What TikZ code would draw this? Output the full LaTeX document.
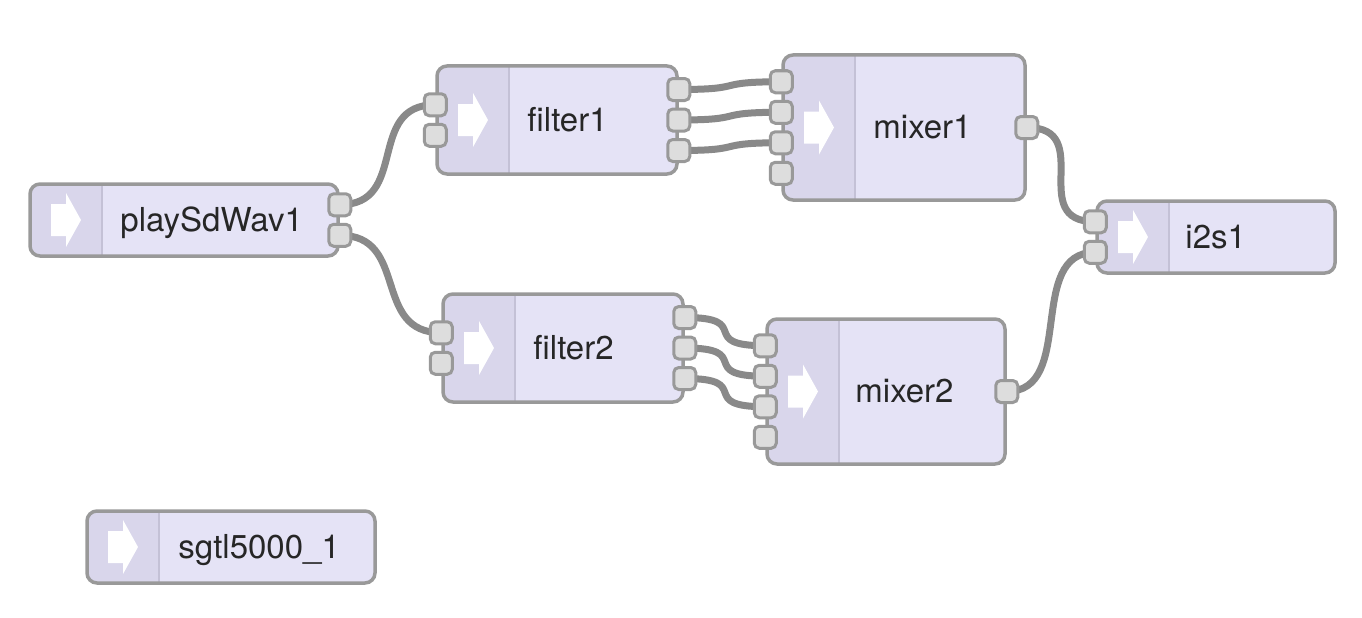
\documentclass[tikz,border=0pt]{standalone}
\usepackage{fontspec}
\setmainfont{TeX Gyre Heros}
\definecolor{nodefill}{HTML}{E5E3F6}
\definecolor{stripcol}{HTML}{D9D6EB}
\definecolor{dividercol}{HTML}{C4C1D6}
\definecolor{bordercol}{HTML}{999999}
\definecolor{portfill}{HTML}{DDDDDD}
\definecolor{wirecol}{HTML}{898989}
\definecolor{textcol}{HTML}{262626}
\pgfdeclarelayer{background}
\pgfsetlayers{background,main}
\begin{document}
\begin{tikzpicture}[x=1pt,y=-1pt,
  box/.style={draw=bordercol, line width=3.5pt, fill=nodefill, rounded corners=10pt, inner sep=0pt,
    path picture={
      \fill[stripcol, sharp corners] (path picture bounding box.south west) rectangle ([xshift=72pt]path picture bounding box.north west);
      \draw[dividercol, line width=2pt, sharp corners] ([xshift=72pt]path picture bounding box.south west) -- ([xshift=72pt]path picture bounding box.north west);
      \fill[white, sharp corners] ([xshift=36pt]path picture bounding box.west) ++(-15pt,-16pt) -- ++(15pt,0pt) -- ++(0pt,-11pt) -- ++(15pt,27pt) -- ++(-15pt,27pt) -- ++(0pt,-11pt) -- ++(-15pt,0pt) -- cycle;
    }},
  port/.style={draw=bordercol, fill=portfill, line width=3pt, rounded corners=5pt, minimum size=22pt, inner sep=0pt},
  wire/.style={draw=wirecol, line width=7pt},
  lbl/.style={text=textcol, inner sep=0pt, anchor=base west, font=\fontsize{33pt}{38pt}\selectfont}
]
\useasboundingbox (0,0) rectangle (1362,618);

% boxes
\node[box, minimum width=308pt, minimum height=72pt] (play) at (184,220) {};
\node[box, minimum width=240pt, minimum height=108pt] (filter1) at (557,120) {};
\node[box, minimum width=242pt, minimum height=145pt] (mixer1) at (904,127.5) {};
\node[box, minimum width=238pt, minimum height=72pt] (i2s) at (1216,237) {};
\node[box, minimum width=240pt, minimum height=108pt] (filter2) at (563,348) {};
\node[box, minimum width=238pt, minimum height=145pt] (mixer2) at (886,391.5) {};
\node[box, minimum width=288pt, minimum height=72pt] (sgtl) at (231,547) {};

% labels
\node[lbl] (play-t) at ([xshift=92pt,yshift=-11pt]play.west) {playSdWav1};
\node[lbl] (filter1-t) at ([xshift=92pt,yshift=-11pt]filter1.west) {filter1};
\node[lbl] (mixer1-t) at ([xshift=92pt,yshift=-11pt]mixer1.west) {mixer1};
\node[lbl] (i2s-t) at ([xshift=90pt,yshift=-11pt]i2s.west) {i2s1};
\node[lbl] (filter2-t) at ([xshift=92pt,yshift=-11pt]filter2.west) {filter2};
\node[lbl] (mixer2-t) at ([xshift=90pt,yshift=-11pt]mixer2.west) {mixer2};
\node[lbl] (sgtl-t) at ([xshift=93pt,yshift=-11pt]sgtl.west) {sgtl5000\_1};

% ports
\node[port] (play-o1) at ([yshift=15.25pt]play.east) {};
\node[port] (play-o2) at ([yshift=-15.25pt]play.east) {};

\node[port] (filter1-i1) at ([yshift=15.25pt]filter1.west) {};
\node[port] (filter1-i2) at ([yshift=-15.25pt]filter1.west) {};
\node[port] (filter1-o1) at ([yshift=30.5pt]filter1.east) {};
\node[port] (filter1-o2) at (filter1.east) {};
\node[port] (filter1-o3) at ([yshift=-30.5pt]filter1.east) {};

\node[port] (filter2-i1) at ([yshift=15.25pt]filter2.west) {};
\node[port] (filter2-i2) at ([yshift=-15.25pt]filter2.west) {};
\node[port] (filter2-o1) at ([yshift=30.5pt]filter2.east) {};
\node[port] (filter2-o2) at (filter2.east) {};
\node[port] (filter2-o3) at ([yshift=-30.5pt]filter2.east) {};

\node[port] (mixer1-i1) at ([yshift=45.75pt]mixer1.west) {};
\node[port] (mixer1-i2) at ([yshift=15.25pt]mixer1.west) {};
\node[port] (mixer1-i3) at ([yshift=-15.25pt]mixer1.west) {};
\node[port] (mixer1-i4) at ([yshift=-45.75pt]mixer1.west) {};
\node[port] (mixer1-o1) at (mixer1.east) {};

\node[port] (mixer2-i1) at ([yshift=45.75pt]mixer2.west) {};
\node[port] (mixer2-i2) at ([yshift=15.25pt]mixer2.west) {};
\node[port] (mixer2-i3) at ([yshift=-15.25pt]mixer2.west) {};
\node[port] (mixer2-i4) at ([yshift=-45.75pt]mixer2.west) {};
\node[port] (mixer2-o1) at (mixer2.east) {};

\node[port] (i2s-i1) at ([yshift=15.25pt]i2s.west) {};
\node[port] (i2s-i2) at ([yshift=-15.25pt]i2s.west) {};

% wires
\begin{pgfonlayer}{background}
\draw[wire] (play-o1.center) .. controls +(70pt,0pt) and +(-70pt,0pt) .. (filter1-i1.center);
\draw[wire] (play-o2.center) .. controls +(70pt,0pt) and +(-70pt,0pt) .. (filter2-i1.center);
\draw[wire] (filter1-o1.center) .. controls +(70pt,0pt) and +(-70pt,0pt) .. (mixer1-i1.center);
\draw[wire] (filter1-o2.center) .. controls +(70pt,0pt) and +(-70pt,0pt) .. (mixer1-i2.center);
\draw[wire] (filter1-o3.center) .. controls +(70pt,0pt) and +(-70pt,0pt) .. (mixer1-i3.center);
\draw[wire] (filter2-o1.center) .. controls +(70pt,0pt) and +(-70pt,0pt) .. (mixer2-i1.center);
\draw[wire] (filter2-o2.center) .. controls +(70pt,0pt) and +(-70pt,0pt) .. (mixer2-i2.center);
\draw[wire] (filter2-o3.center) .. controls +(70pt,0pt) and +(-70pt,0pt) .. (mixer2-i3.center);
\draw[wire] (mixer1-o1.center) .. controls +(70pt,0pt) and +(-70pt,0pt) .. (i2s-i1.center);
\draw[wire] (mixer2-o1.center) .. controls +(70pt,0pt) and +(-70pt,0pt) .. (i2s-i2.center);
\end{pgfonlayer}
\end{tikzpicture}
\end{document}
